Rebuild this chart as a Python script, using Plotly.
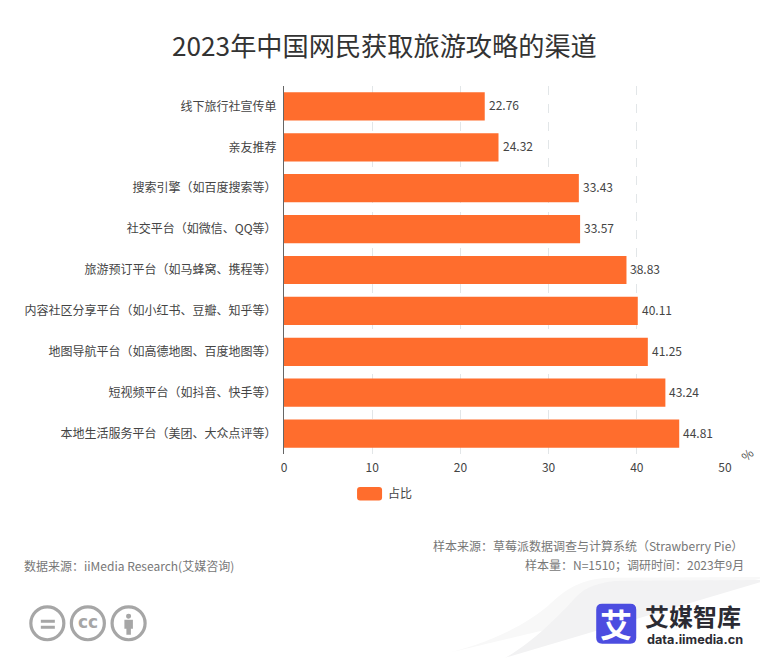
import plotly.graph_objects as go

categories = ["线下旅行社宣传单", "亲友推荐", "搜索引擎（如百度搜索等）", "社交平台（如微信、QQ等）",
              "旅游预订平台（如马蜂窝、携程等）", "内容社区分享平台（如小红书、豆瓣、知乎等）",
              "地图导航平台（如高德地图、百度地图等）", "短视频平台（如抖音、快手等）",
              "本地生活服务平台（美团、大众点评等）"]
values = [22.76, 24.32, 33.43, 33.57, 38.83, 40.11, 41.25, 43.24, 44.81]
x_ticks = [0, 10, 20, 30, 40, 50]

FONT = "Noto Sans CJK SC"
ORANGE = "#ff6d2d"
GREY = "#a6a6a6"
# page body keeps an 8px margin, so the figure starts at (8, 8)
W, H = 760, 650
LEFT, RIGHT, TOP, BOTTOM = 284, 724.7, 85.5, 454


def px(x):
    return (x - LEFT) / (RIGHT - LEFT)


def py(y):
    return (BOTTOM - y) / (BOTTOM - TOP)


def svg(points):
    # picture pixels to paper coordinates
    return " ".join(f"{px(x):.5f},{py(y):.5f}" for x, y in points)


def rounded(x0, y0, x1, y1, r):
    return ("M" + svg([(x0 + r, y0)]) + " L" + svg([(x1 - r, y0)])
            + " Q" + svg([(x1, y0), (x1, y0 + r)]) + " L" + svg([(x1, y1 - r)])
            + " Q" + svg([(x1, y1), (x1 - r, y1)]) + " L" + svg([(x0 + r, y1)])
            + " Q" + svg([(x0, y1), (x0, y1 - r)]) + " L" + svg([(x0, y0 + r)])
            + " Q" + svg([(x0, y0), (x0 + r, y0)]) + " Z")


def box(kind, x0, y0, x1, y1, **kw):
    return dict(type=kind, xref="paper", yref="paper", x0=px(x0), x1=px(x1), y0=py(y1), y1=py(y0), **kw)


fig = go.Figure(go.Bar(
    y=categories, x=values, orientation="h", name="占比",
    marker=dict(color=ORANGE, line=dict(width=0)),
    width=0.69,
    showlegend=False,
))

fig.update_layout(
    width=W, height=H, autosize=False,
    margin=dict(l=LEFT - 8, r=W + 8 - RIGHT, t=TOP - 8, b=H + 8 - BOTTOM, pad=0),
    paper_bgcolor="white", plot_bgcolor="white",
    font=dict(family=FONT, color="#444444", size=12),
)
fig.update_xaxes(range=[0, 50], tickvals=x_ticks, showgrid=True, gridcolor="#e2e6e8",
                 griddash="dash", gridwidth=1, zeroline=False, showline=False, ticks="",
                 ticklabelstandoff=5, tickfont=dict(size=12, color="#444444"))
fig.update_yaxes(autorange=False, range=[8.5, -0.5], showline=True, linecolor="#666666", linewidth=1,
                 ticks="", ticklabelstandoff=4, showgrid=False,
                 tickfont=dict(size=12, color="#444444"))

shapes = []
# grey swoosh behind the logo, outer band is the soft edge
shapes.append(dict(type="path", xref="paper", yref="paper", layer="below", line_width=0,
                   fillcolor="#f8f8f8",
                   path="M" + svg([(428, 658)])
                        + " C" + svg([(490, 645), (525, 625), (548, 606)])
                        + " C" + svg([(565, 590), (580, 579), (610, 578)])
                        + " L" + svg([(768, 577), (768, 658)]) + " Z"))
shapes.append(dict(type="path", xref="paper", yref="paper", layer="below", line_width=0,
                   fillcolor="#f2f2f3",
                   path="M" + svg([(505, 658)])
                        + " C" + svg([(530, 645), (560, 615), (575, 598)])
                        + " C" + svg([(585, 587), (600, 582), (620, 581)])
                        + " L" + svg([(768, 580), (768, 658)]) + " Z"))
# legend swatch
shapes.append(dict(type="path", xref="paper", yref="paper", fillcolor=ORANGE, line_width=0,
                   path=rounded(357, 487, 382, 500.5, 3)))
# licence icons
for cx in (47.5, 88, 128.7):
    shapes.append(box("circle", cx - 16.5, 607, cx + 16.5, 640,
                      line=dict(color=GREY, width=3.2), fillcolor="white"))
for y0, y1 in ((620, 623), (626, 629)):
    shapes.append(box("rect", 41, y0, 55, y1, fillcolor=GREY, line_width=0))
shapes.append(box("circle", 126.2, 614, 131.2, 619, fillcolor=GREY, line_width=0))
shapes.append(box("rect", 124.5, 620, 133, 629, fillcolor=GREY, line_width=0))
shapes.append(box("rect", 126.5, 628, 131, 635, fillcolor=GREY, line_width=0))
# logo square
shapes.append(dict(type="path", xref="paper", yref="paper", fillcolor="#4c4de0", line_width=0,
                   path=rounded(596, 604, 636, 644, 6)))


def note(x, y, text, size=12, color="#666666", anchor="left", family=FONT, **kw):
    return dict(xref="paper", yref="paper", x=px(x), y=py(y), text=text, showarrow=False,
                xanchor=anchor, yanchor="middle", font=dict(size=size, color=color, family=family), **kw)


notes = [
    note(384, 44.5, "2023年中国网民获取旅游攻略的渠道", size=26.2, color="#333333", anchor="center"),
    note(385.5, 493, "占比", color="#444444"),
    note(746, 454, "%", color="#444444", anchor="center", textangle=-45),
    note(745, 546, "样本来源：草莓派数据调查与计算系统（Strawberry Pie）", anchor="right", color="#777777"),
    note(746, 565, "样本量：N=1510；调研时间：2023年9月", anchor="right", color="#777777"),
    note(22.5, 566, "数据来源：iiMedia Research(艾媒咨询)", color="#777777"),
    note(88, 622.5, "<b>cc</b>", size=17, color=GREY, anchor="center", family="DejaVu Sans"),
    note(616, 623, "<b>艾</b>", size=32, color="white", anchor="center"),
    note(643, 616, "<b>艾媒智库</b>", size=24, color="#2b2b33"),
    note(645, 639.5, "<b>data.iimedia.cn</b>", size=12.7, color="#2b2b33", family="Inter"),
]
# value labels sit just past the bar ends
for cat, v in zip(categories, values):
    notes.append(dict(xref="x", yref="y", x=v, y=cat, text=f"{v:.2f}", showarrow=False, xanchor="left",
                      yanchor="middle", xshift=2, yshift=1.5, font=dict(size=12, color="#444444", family=FONT)))

fig.update_layout(shapes=shapes, annotations=notes)

fig.write_html("out.html")
